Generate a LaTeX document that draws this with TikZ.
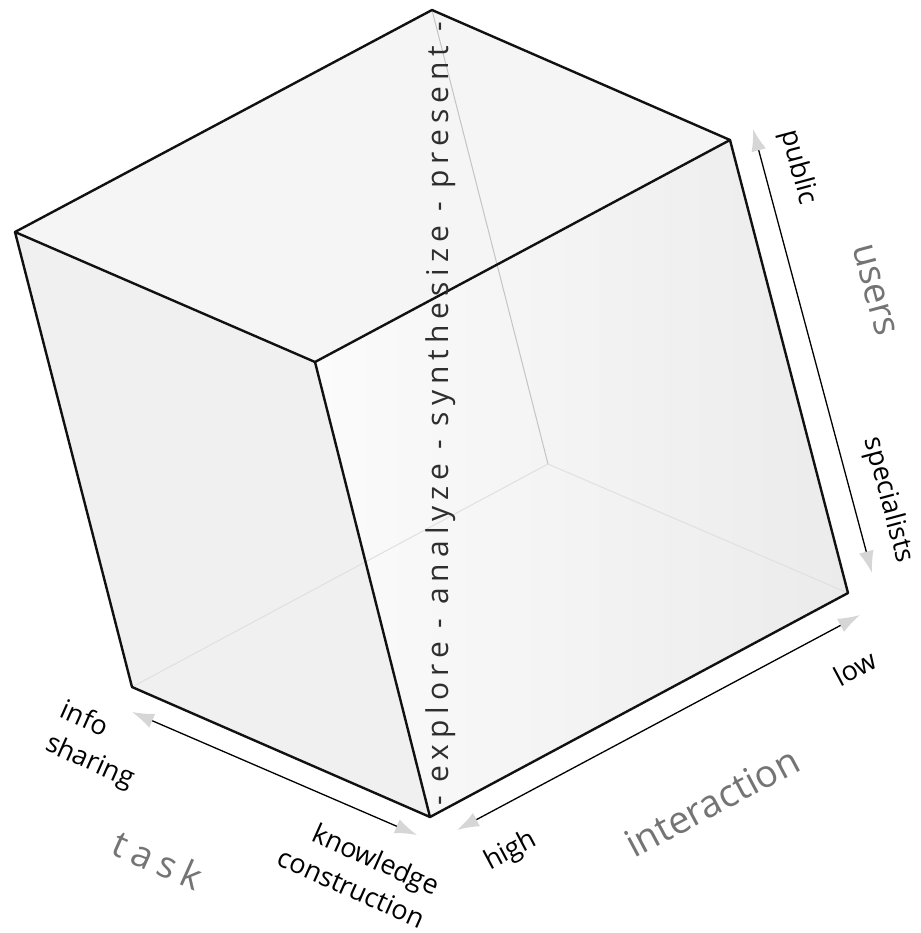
\documentclass[tikz,border=0pt]{standalone}
\usepackage{fontspec}
\setmainfont{Open Sans}
\newfontfamily\spacedfont[LetterSpace=20]{Open Sans}
\usetikzlibrary{arrows.meta}
\definecolor{edgeblack}{HTML}{111111}
\definecolor{labelgray}{HTML}{747474}
\definecolor{flowgray}{HTML}{2E2E2E}
\definecolor{tipgray}{HTML}{D6D6D6}
\definecolor{hiddenA}{HTML}{C4C4C4}
\definecolor{hiddenB}{HTML}{E0E0E0}
\definecolor{facetop}{HTML}{F5F5F5}
\definecolor{faceleft}{HTML}{F0F0F0}
\definecolor{facerightA}{HTML}{FBFBFB}
\definecolor{facerightB}{HTML}{EBEBEB}
\begin{document}
\begin{tikzpicture}[x=1pt,y=-1pt,
  cubeedge/.style={draw=edgeblack, line width=2.4pt, line join=round, line cap=round},
  hiddenedge/.style={line width=1pt},
  axisarrow/.style={draw=black, line width=1.3pt,
    {Latex[length=22pt,width=15pt,color=tipgray]}-{Latex[length=22pt,width=15pt,color=tipgray]}},
  smalllabel/.style={font=\fontsize{27}{36}\selectfont, text=black, inner sep=0pt},
  biglabel/.style={font=\fontsize{38}{40}\selectfont, text=labelgray, inner sep=0pt},
]
\useasboundingbox (0,0) rectangle (920,933);

% cube vertices
\coordinate (T)  at (432,10);
\coordinate (TR) at (730,140);
\coordinate (L)  at (15,232);
\coordinate (F)  at (315,362);
\coordinate (B)  at (430,817);
\coordinate (BL) at (132,687);
\coordinate (BR) at (848,593);
\coordinate (H)  at (548,464);

% faces
\fill[facetop] (L) -- (T) -- (TR) -- (F) -- cycle;
\fill[faceleft] (L) -- (F) -- (B) -- (BL) -- cycle;
\shade[left color=facerightA, right color=facerightB] (F) -- (TR) -- (BR) -- (B) -- cycle;

% hidden edges
\draw[hiddenedge, draw=hiddenA] (T) -- (H);
\draw[hiddenedge, draw=hiddenB] (H) -- (BL);
\draw[hiddenedge, draw=hiddenB] (H) -- (BR);

% visible edges
\draw[cubeedge] (L) -- (T) -- (TR) -- (F) -- cycle;
\draw[cubeedge] (L) -- (BL) -- (B) -- (BR) -- (TR);
\draw[cubeedge] (F) -- (B);

% vertical process text
\node[font=\spacedfont\fontsize{30}{32}\selectfont, text=flowgray, rotate=90, inner sep=0pt]
  (flow) at (441,414) {- explore - analyze - synthesize - present -};

% axis arrows
\coordinate (usersTop) at (753,129);
\coordinate (usersBot) at (872,573);
\coordinate (interHigh) at (457,830);
\coordinate (interLow) at (860,615);
\coordinate (taskInfo) at (132,712);
\coordinate (taskKnow) at (417,835);
\draw[axisarrow] (usersTop) -- (usersBot);
\draw[axisarrow] (interHigh) -- (interLow);
\draw[axisarrow] (taskInfo) -- (taskKnow);

% users axis labels
\node[smalllabel, rotate=-75] (public) at (798,167) {public};
\node[biglabel, font=\fontsize{37}{40}\selectfont, rotate=-75] (users) at (874,290) {users};
\node[smalllabel, rotate=-75] (specialists) at (888,500) {specialists};

% interaction axis labels
\node[smalllabel, rotate=28] (low) at (855,668) {low};
\node[biglabel, rotate=28] (interaction) at (712,802) {interaction};
\node[smalllabel, rotate=28] (high) at (511,851) {high};

% task axis labels
\node[smalllabel, rotate=-24, align=left] (info) at (97,746) {info\\sharing};
\node[biglabel, font=\spacedfont\fontsize{37}{40}\selectfont, rotate=-24] (task) at (158,860) {task};
\node[smalllabel, rotate=-24, align=right] (knowledge) at (359,871) {knowledge\\construction};
\end{tikzpicture}
\end{document}
